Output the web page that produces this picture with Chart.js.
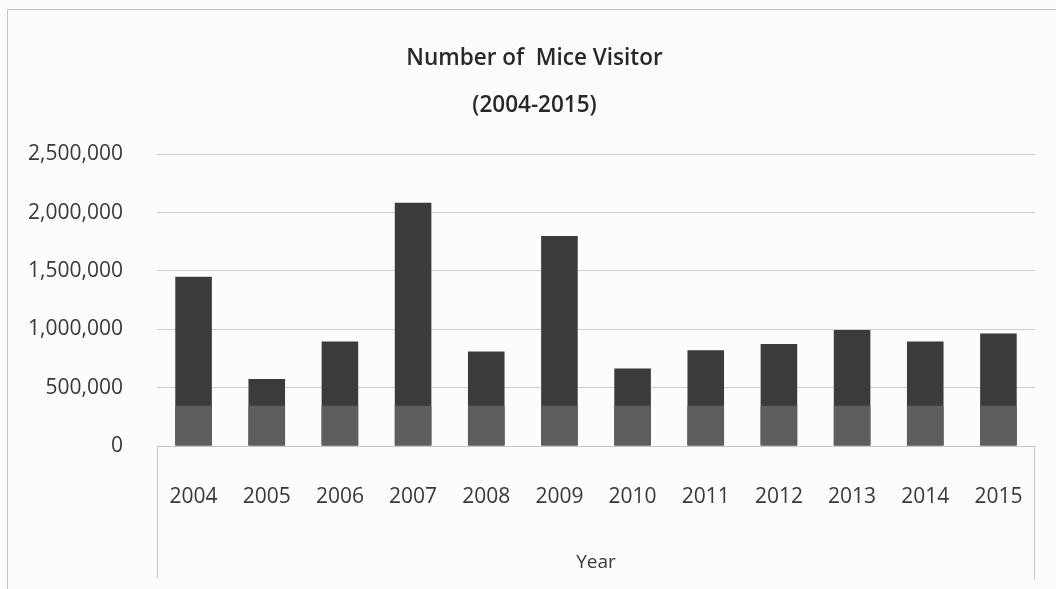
<!DOCTYPE html>
<html>
<head>
<meta charset="utf-8">
<title>Number of Mice Visitor</title>
<script src="https://cdn.jsdelivr.net/npm/chart.js@4.4.1/dist/chart.umd.min.js"></script>
<style>
  html, body { margin: 0; padding: 0; background: #fdfcfc; overflow: hidden; }
  #frame {
    position: absolute; left: 7px; top: 9px; width: 1070px; height: 600px;
    border-left: 1px solid #c6c6c6; border-top: 1px solid #c6c6c6;
  }
  #wrap { position: absolute; left: 0; top: 0; width: 1056px; height: 589px; }
</style>
</head>
<body>
<div id="frame"></div>
<div id="wrap"><canvas id="visitorChart"></canvas></div>
<script>
const years = ['2004', '2005', '2006', '2007', '2008', '2009', '2010', '2011', '2012', '2013', '2014', '2015'];
const visitors = [1450000, 575000, 895000, 2085000, 810000, 1800000, 665000, 820000, 875000, 995000, 895000, 965000];
const yTickValues = [0, 500000, 1000000, 1500000, 2000000, 2500000];

// the lower part of every bar is printed in a lighter grey up to this level
const shadeLevel = 345000;

const fontFamily = '"Open Sans", "Noto Sans", sans-serif';
const textColor = '#383838';
const barDark = '#3b3b3b';
const barLight = '#5e5e5e';
const lineGrey = '#c6c6c6';

const numberFmt = new Intl.NumberFormat('en-US');

const lowerShade = {
  id: 'lowerShade',
  afterDatasetsDraw(chart) {
    const { ctx, scales: { y } } = chart;
    const top = y.getPixelForValue(shadeLevel);
    ctx.save();
    ctx.fillStyle = barLight;
    chart.getDatasetMeta(0).data.forEach((bar) => {
      const from = Math.max(top, bar.y);
      ctx.fillRect(bar.x - bar.width / 2, from, bar.width, bar.base - from);
    });
    ctx.restore();
  }
};

// thin box hanging under the plot area around the year labels
const axisBox = {
  id: 'axisBox',
  afterDraw(chart) {
    const { ctx, chartArea } = chart;
    ctx.save();
    ctx.strokeStyle = lineGrey;
    ctx.lineWidth = 1;
    ctx.beginPath();
    ctx.moveTo(chartArea.left + 0.5, chartArea.bottom);
    ctx.lineTo(chartArea.left + 0.5, chartArea.bottom + 132);
    ctx.moveTo(chartArea.right - 0.5, chartArea.bottom);
    ctx.lineTo(chartArea.right - 0.5, chartArea.bottom + 134);
    ctx.stroke();
    ctx.restore();
  }
};

// centre the title a little right of the canvas middle
const titleShift = {
  id: 'titleShift',
  afterLayout(chart) {
    if (chart.titleBlock) chart.titleBlock.left += 34;
  }
};

new Chart(document.getElementById('visitorChart'), {
  type: 'bar',
  data: {
    labels: years,
    datasets: [{
      label: 'Visitors',
      data: visitors,
      backgroundColor: barDark,
      borderWidth: 0,
      barPercentage: 0.5,
      categoryPercentage: 1
    }]
  },
  options: {
    responsive: true,
    maintainAspectRatio: false,
    animation: false,
    layout: { padding: { left: 0, right: 21, top: 36, bottom: 0 } },
    plugins: {
      legend: { display: false },
      tooltip: { enabled: false },
      title: {
        display: true,
        text: ['Number of  Mice Visitor', '(2004-2015)'],
        color: '#282828',
        font: { family: fontFamily, size: 22.5, weight: '600', lineHeight: 2.05 },
        padding: { top: 0, bottom: 26 }
      }
    },
    scales: {
      x: {
        grid: { display: false },
        border: { display: true, color: lineGrey },
        ticks: {
          color: textColor,
          font: { family: fontFamily, size: 21 },
          padding: 30,
          maxRotation: 0,
          autoSkip: false
        },
        title: {
          display: true,
          text: 'Year',
          color: textColor,
          font: { family: fontFamily, size: 19 },
          padding: { top: 0, bottom: 15 }
        },
        afterFit(scale) { scale.height = 143; }
      },
      y: {
        min: 0,
        max: 2500000,
        grid: { color: '#cdcdcd', drawTicks: false },
        border: { display: false },
        afterBuildTicks(scale) {
          scale.ticks = yTickValues.map((v) => ({ value: v }));
        },
        ticks: {
          color: textColor,
          font: { family: fontFamily, size: 21 },
          padding: 34,
          callback: (value) => numberFmt.format(value)
        },
        afterFit(scale) { scale.width = 157; }
      }
    }
  },
  plugins: [lowerShade, axisBox, titleShift]
});
</script>
</body>
</html>
